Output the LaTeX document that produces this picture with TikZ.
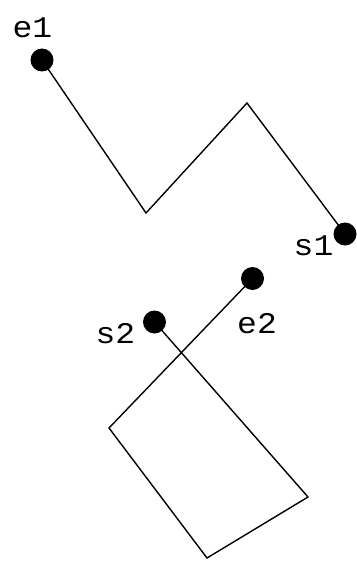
\documentclass[tikz,border=0pt]{standalone}
\usepackage{fontspec}
\setmonofont{Liberation Mono}
\begin{document}
\begin{tikzpicture}[x=1pt,y=-1pt,
  dot/.style={circle,fill=black,inner sep=0pt,minimum size=23pt},
  lbl/.style={font=\ttfamily\fontsize{30}{30}\selectfont,inner sep=0pt,xscale=1.1},
  seg/.style={line width=1.4pt,line join=miter}]
\useasboundingbox (0,0) rectangle (356,567);
\node[dot] (e1) at (42,60) {};
\node[dot] (s1) at (345,234) {};
\node[dot] (s2) at (154.5,322) {};
\node[dot] (e2) at (252.5,278.5) {};
\coordinate (a1) at (146,213);
\coordinate (a2) at (247,103);
\coordinate (b1) at (308,497);
\coordinate (b2) at (207,558);
\coordinate (b3) at (109,428);
\node[lbl] (le1) at (32.5,28) {e1};
\node[lbl] (ls1) at (313.5,246) {s1};
\node[lbl] (ls2) at (115.5,334) {s2};
\node[lbl] (le2) at (257,324) {e2};
\draw[seg] (e1.center) -- (a1) -- (a2) -- (s1.center);
\draw[seg] (s2.center) -- (b1) -- (b2) -- (b3) -- (e2.center);
\end{tikzpicture}
\end{document}
